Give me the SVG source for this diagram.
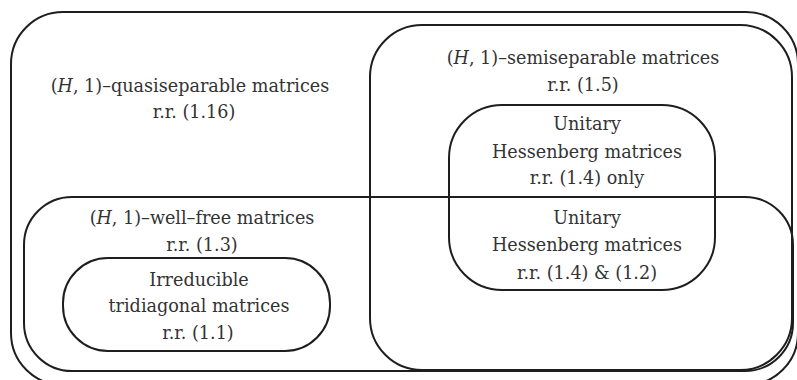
<svg xmlns="http://www.w3.org/2000/svg" width="797" height="380" viewBox="0 0 797 380">
<style>
.box{fill:none;stroke:#1e1e1e;stroke-width:2}
text{font-family:"DejaVu Serif","Liberation Serif",serif;font-size:17.6px;fill:#333333;text-anchor:middle}
.it{font-style:italic}
</style>
<rect width="797" height="380" fill="#ffffff"/>
<g id="quasiseparable">
<rect class="box" x="11" y="12" width="787" height="373" rx="52" ry="52"/>
<text x="190" y="92">(<tspan class="it">H</tspan>, 1)–quasiseparable matrices</text>
<text x="194" y="118">r.r. (1.16)</text>
</g>
<g id="semiseparable">
<rect class="box" x="370" y="25" width="422" height="345" rx="52" ry="52"/>
<text x="583" y="64">(<tspan class="it">H</tspan>, 1)–semiseparable matrices</text>
<text x="583" y="91">r.r. (1.5)</text>
</g>
<g id="wellfree">
<rect class="box" x="24" y="197" width="769" height="174" rx="48" ry="48"/>
<text x="202" y="224">(<tspan class="it">H</tspan>, 1)–well–free matrices</text>
<text x="202" y="251">r.r. (1.3)</text>
</g>
<g id="unitary">
<rect class="box" x="449" y="105" width="266" height="185" rx="53" ry="53"/>
<text x="587" y="130">Unitary</text>
<text x="587" y="158">Hessenberg matrices</text>
<text x="587" y="184">r.r. (1.4) only</text>
<text x="587" y="224">Unitary</text>
<text x="587" y="251">Hessenberg matrices</text>
<text x="587" y="279">r.r. (1.4) &amp; (1.2)</text>
</g>
<g id="tridiagonal">
<rect class="box" x="63" y="258" width="267" height="93" rx="45" ry="45"/>
<text x="199" y="286">Irreducible</text>
<text x="199" y="312">tridiagonal matrices</text>
<text x="198" y="339">r.r. (1.1)</text>
</g>
<g id="connectors"/>
</svg>
